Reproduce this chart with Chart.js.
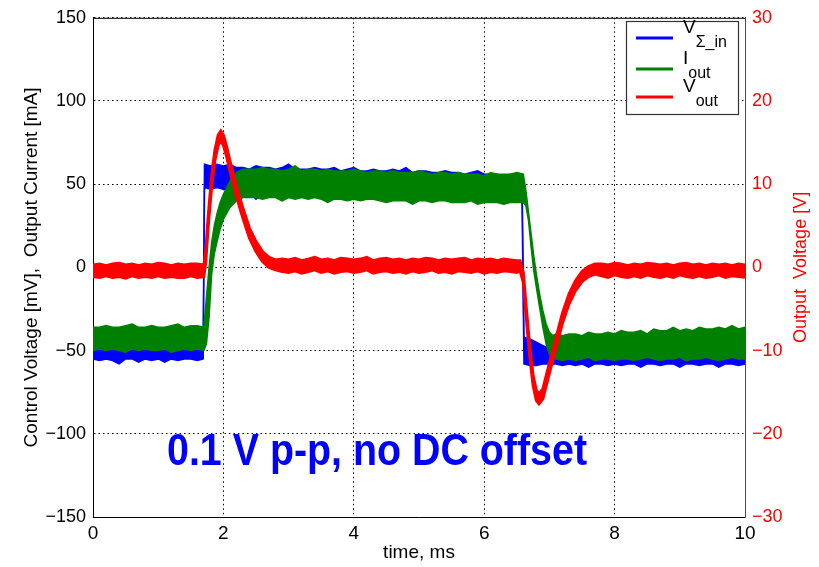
<!DOCTYPE html>
<html>
<head>
<meta charset="utf-8">
<script src="https://cdn.jsdelivr.net/npm/chart.js@4.4.1/dist/chart.umd.min.js"></script>
<style>
  html, body { margin: 0; padding: 0; background: #fff; }
  canvas { display: block; }
</style>
</head>
<body>
<canvas id="scope" width="819" height="567"></canvas>
<script>
// time axis ticks, ms
const timeTicks = [0, 2, 4, 6, 8, 10];

// V_sigma_in (blue), control voltage [mV] - noise band edges
const blueTime = [
  0, 0.1, 0.2, 0.3, 0.4, 0.5, 0.6, 0.7, 0.8, 0.9, 1.0, 1.1, 1.2, 1.3, 1.4, 1.5, 1.6,
  1.69, 1.71, 1.8, 1.9, 2.0, 2.1,
  2.2, 2.3, 2.4, 2.5, 2.6, 2.7, 2.8, 2.9, 3.0, 3.1, 3.2, 3.3, 3.4, 3.5, 3.6, 3.7, 3.8, 3.9,
  4.0, 4.1, 4.2, 4.3, 4.4, 4.5, 4.6, 4.7, 4.8, 4.9, 5.0, 5.1, 5.2, 5.3, 5.4, 5.5, 5.6, 5.7,
  5.8, 5.9, 6.0, 6.1, 6.2, 6.3, 6.4, 6.5,
  6.58, 6.61, 6.7, 6.8, 6.9, 7.0, 7.06,
  7.1, 7.2, 7.3, 7.4, 7.5, 7.6, 7.7, 7.8, 7.9, 8.0, 8.1, 8.2, 8.3, 8.4, 8.5, 8.6, 8.7, 8.8,
  8.9, 9.0, 9.1, 9.2, 9.3, 9.4, 9.5, 9.6, 9.7, 9.8, 9.9, 10.0
];
const blueHigh = [
  -44, -43, -45, -42, -44, -43, -41, -44, -45, -43, -42, -44, -43, -45, -42, -44, -43,
  -44, 62, 61, 62, 61, 62,
  60, 60, 59, 61, 60, 60, 59, 60, 62, 59, 59, 59, 60, 59, 59, 60, 58, 59, 60, 58,
  58, 59, 58, 58, 59, 58, 60, 57, 58, 58, 57, 57, 58, 57, 57, 56, 57, 58, 56, 56, 56, 55, 56, 55,
  55, -42, -43, -45, -47, -49, -45,
  -44, -43, -45, -42, -44, -43, -45, -42, -44, -43, -42, -44, -41, -43, -44, -42, -43, -41,
  -42, -44, -42, -41, -43, -40, -42, -41, -42, -40, -41, -42
];
const blueLow = [
  -55, -56, -55, -56, -58, -55, -55, -57, -55, -56, -55, -57, -55, -56, -55, -55, -56,
  -55, 48, 47, 48, 47, 46,
  45, 44, 45, 41, 45, 44, 45, 43, 45, 44, 45, 44, 43, 45, 44, 45, 44, 43, 45, 44,
  43, 44, 45, 43, 44, 42, 44, 43, 44, 42, 43, 44, 42, 43, 44, 42, 43, 41, 43, 42, 43, 41, 42, 41,
  40, -58, -59, -59, -58, -58, -58,
  -58, -59, -58, -59, -58, -60, -58, -58, -59, -58, -59, -58, -58, -60, -58, -58, -59, -58,
  -58, -60, -58, -58, -59, -58, -58, -60, -58, -58, -59, -58
];

// I_out (green), output current [mA]
const greenTime = [
  0, 0.1, 0.2, 0.3, 0.4, 0.5, 0.6, 0.7, 0.8, 0.9, 1.0, 1.1, 1.2, 1.3, 1.4, 1.5, 1.6, 1.7,
  1.74, 1.78, 1.82, 1.86, 1.9, 1.95, 2.0, 2.1, 2.2, 2.3,
  2.4, 2.5, 2.6, 2.7, 2.8, 2.9, 3.0, 3.1, 3.2, 3.3, 3.4, 3.5, 3.6, 3.7, 3.8, 3.9, 4.0, 4.1,
  4.2, 4.3, 4.4, 4.5, 4.6, 4.7, 4.8, 4.9, 5.0, 5.1, 5.2, 5.3, 5.4, 5.5, 5.6, 5.7, 5.8, 5.9,
  6.0, 6.1, 6.2, 6.3, 6.4, 6.5, 6.6,
  6.64, 6.68, 6.72, 6.76, 6.8, 6.85, 6.9, 6.95, 7.0, 7.05,
  7.1, 7.2, 7.3, 7.4, 7.5, 7.6, 7.7, 7.8, 7.9, 8.0, 8.1, 8.2, 8.3, 8.4, 8.5, 8.6, 8.7, 8.8,
  8.9, 9.0, 9.1, 9.2, 9.3, 9.4, 9.5, 9.6, 9.7, 9.8, 9.9, 10.0
];
const greenHigh = [
  -36, -36, -35, -36, -36, -35, -34, -36, -36, -35, -36, -36, -35, -34, -36, -35, -35, -36,
  -18, 0, 15, 25, 32, 39, 44, 52, 57, 59,
  59, 59, 60, 59, 59, 58, 59, 61, 58, 59, 59, 58, 59, 58, 58, 58, 59, 58,
  57, 58, 58, 57, 58, 57, 57, 57, 58, 57, 56, 57, 57, 56, 57, 56, 56, 56,
  55, 57, 56, 56, 56, 57, 56,
  46, 33, 20, 7, -4, -16, -26, -34, -39, -41,
  -40, -41, -40, -40, -41, -39, -40, -40, -39, -40, -38, -39, -39, -38, -40, -37, -38, -38,
  -36, -38, -37, -38, -36, -37, -37, -36, -37, -35, -37, -36
];
const greenLow = [
  -50, -49, -50, -49, -50, -51, -49, -50, -49, -50, -50, -49, -51, -50, -49, -50, -49, -50,
  -46, -30, -4, 8, 15, 23, 29, 36, 40, 42,
  42, 42, 41, 42, 42, 40, 42, 41, 42, 41, 42, 41, 39, 41, 41, 40, 41, 40,
  41, 41, 40, 39, 40, 40, 40, 38, 40, 40, 39, 40, 40, 39, 39, 39, 40, 38,
  39, 39, 39, 38, 39, 39, 39,
  37, 28, 12, -2, -12, -24, -36, -46, -52, -55,
  -55, -56, -55, -56, -55, -54, -56, -55, -55, -56, -55, -55, -56, -55, -54, -55, -56, -55,
  -55, -54, -56, -55, -55, -54, -55, -56, -55, -54, -55, -55
];

// V_out (red), output voltage [V] on the right axis
const redTime = [
  0, 0.1, 0.2, 0.3, 0.4, 0.5, 0.6, 0.7, 0.8, 0.9, 1.0, 1.1, 1.2, 1.3, 1.4, 1.5, 1.6, 1.7,
  1.73, 1.76, 1.79, 1.83, 1.87, 1.92, 1.96, 2.0, 2.05, 2.1, 2.2, 2.3, 2.4, 2.5, 2.6, 2.7, 2.8,
  2.9, 3.0, 3.1, 3.2, 3.3, 3.4, 3.5, 3.6, 3.7, 3.8, 3.9, 4.0, 4.1, 4.2, 4.3, 4.4, 4.5, 4.6,
  4.7, 4.8, 4.9, 5.0, 5.1, 5.2, 5.3, 5.4, 5.5, 5.6, 5.7, 5.8, 5.9, 6.0, 6.1, 6.2, 6.3, 6.4, 6.5,
  6.55, 6.6, 6.65, 6.7, 6.75, 6.8, 6.84, 6.9, 7.0, 7.1, 7.2, 7.3, 7.4, 7.5, 7.6, 7.7,
  7.8, 7.9, 8.0, 8.1, 8.2, 8.3, 8.4, 8.5, 8.6, 8.7, 8.8, 8.9, 9.0, 9.1, 9.2, 9.3, 9.4, 9.5,
  9.6, 9.7, 9.8, 9.9, 10.0
];
const redHigh = [
  0.3, 0.4, 0.2, 0.4, 0.5, 0.3, 0.4, 0.2, 0.4, 0.3, 0.5, 0.4, 0.2, 0.4, 0.3, 0.4, 0.4, 0.3,
  1.9, 5.4, 8.3, 11.7, 14.1, 15.9, 16.4, 15.9, 14.5, 12.8, 9.7, 7.1, 4.7, 3.1, 1.9, 1.2, 0.9,
  1.0, 0.9, 1.1, 0.8, 1.0, 1.2, 0.9, 1.0, 0.8, 1.1, 1.0, 0.9, 1.0, 1.2, 0.8, 1.0, 1.1, 0.9,
  1.0, 0.8, 1.0, 0.9, 1.1, 1.0, 0.8, 1.0, 0.9, 1.0, 1.1, 0.8, 1.0, 0.9, 1.0, 0.8, 1.0, 0.9, 0.8,
  0.8, -0.6, -5.3, -9.6, -13.0, -14.8, -15.2, -14.6, -11.5, -8.5, -5.5, -3.2, -1.6, -0.5, 0.1, 0.4,
  0.4, 0.3, 0.5, 0.4, 0.2, 0.4, 0.3, 0.5, 0.4, 0.3, 0.4, 0.2, 0.4, 0.5, 0.3, 0.4, 0.2, 0.4,
  0.3, 0.4, 0.2, 0.4, 0.3
];
const redLow = [
  -1.1, -1.2, -1.0, -1.2, -1.1, -1.3, -1.0, -1.2, -1.1, -1.2, -1.0, -1.2, -1.1, -1.2, -1.2, -1.0, -1.2, -1.1,
  0.7, 4.2, 7.1, 10.5, 12.9, 14.7, 15.2, 14.7, 13.3, 11.6, 8.5, 5.9, 3.5, 1.9, 0.7, 0.0, -0.3,
  -0.5, -0.6, -0.4, -0.7, -0.5, -0.3, -0.6, -0.4, -0.7, -0.5, -0.4, -0.6, -0.5, -0.3, -0.7, -0.5, -0.4, -0.6,
  -0.5, -0.7, -0.4, -0.6, -0.5, -0.3, -0.6, -0.5, -0.7, -0.4, -0.5, -0.6, -0.4, -0.7, -0.5, -0.6, -0.4, -0.5, -0.6,
  -0.4, -1.8, -6.5, -10.8, -14.2, -16.0, -16.4, -15.8, -12.7, -9.7, -6.7, -4.4, -2.8, -1.7, -1.1, -0.8,
  -1.0, -1.2, -0.9, -1.1, -1.2, -1.0, -1.2, -0.9, -1.1, -1.2, -1.0, -1.2, -0.9, -1.1, -1.2, -1.0, -1.2, -1.1,
  -0.9, -1.2, -1.0, -1.1, -1.2
];

const legendNames = [["V", "\u03A3_in"], ["I", "out"], ["V", "out"]];
const legendColors = ["#0000ff", "#008000", "#ff0000"];
const noteText = "0.1 V p-p, no DC offset";

// turn a time array + value array into {x, y} points
function toPoints(times, values) {
  return times.map((t, i) => ({ x: t, y: values[i] }));
}

// one edge of a noise band; the upper edge fills down to the lower one
function bandEdge(times, values, color, axis, width, fill) {
  return {
    data: toPoints(times, values),
    borderColor: color,
    backgroundColor: color,
    borderWidth: width,
    pointRadius: 0,
    tension: 0,
    fill: fill,
    yAxisID: axis,
  };
}

const baseFont = "'Liberation Sans', Arial, Helvetica, sans-serif";
const minusSign = (v) => String(v).replace("-", "\u2212");

// top frame, right-hand title, legend box and the blue note
const decorations = {
  id: "decorations",
  afterDraw(chart) {
    const ctx = chart.ctx;
    const area = chart.chartArea;
    ctx.save();

    ctx.strokeStyle = "#000";
    ctx.lineWidth = 1;
    ctx.beginPath();
    ctx.moveTo(area.left, area.top + 0.5);
    ctx.lineTo(area.right, area.top + 0.5);
    ctx.stroke();

    // right axis title reads bottom to top like the left one
    ctx.save();
    ctx.translate(801, (area.top + area.bottom) / 2);
    ctx.rotate(-Math.PI / 2);
    ctx.fillStyle = "#ff0000";
    ctx.font = "18px " + baseFont;
    ctx.textAlign = "center";
    ctx.textBaseline = "middle";
    ctx.fillText("Output  Voltage [V]", 0, 0);
    ctx.restore();

    // legend
    ctx.fillStyle = "#fff";
    ctx.fillRect(626, 21, 112, 93);
    ctx.strokeStyle = "#333";
    ctx.lineWidth = 1.2;
    ctx.strokeRect(626.5, 21.5, 112, 93);
    const rowY = [38, 69, 97];
    legendNames.forEach((name, i) => {
      ctx.strokeStyle = legendColors[i];
      ctx.lineWidth = 3;
      ctx.beginPath();
      ctx.moveTo(636, rowY[i]);
      ctx.lineTo(673, rowY[i]);
      ctx.stroke();
      ctx.fillStyle = "#000";
      ctx.textAlign = "left";
      ctx.textBaseline = "alphabetic";
      ctx.font = "19px " + baseFont;
      ctx.fillText(name[0], 683, rowY[i] - 5);
      const w = ctx.measureText(name[0]).width;
      ctx.font = "16px " + baseFont;
      ctx.fillText(name[1], 683 + w, rowY[i] + 9);
    });

    // note in large condensed bold
    ctx.fillStyle = "#0000ff";
    ctx.font = "bold 45px 'Liberation Sans Narrow', 'Liberation Sans', sans-serif";
    ctx.textAlign = "left";
    ctx.textBaseline = "alphabetic";
    const tw = ctx.measureText(noteText).width;
    ctx.translate(167, 465);
    ctx.scale(420 / tw, 1);
    ctx.fillText(noteText, 0, 0);

    ctx.restore();
  },
};

const gridStyle = {
  color: "#000",
  lineWidth: 1,
  drawTicks: false,
};

new Chart(document.getElementById("scope").getContext("2d"), {
  type: "line",
  data: {
    datasets: [
      bandEdge(redTime, redHigh, "#ff0000", "y2", 3, "+1"),
      bandEdge(redTime, redLow, "#ff0000", "y2", 3, false),
      bandEdge(greenTime, greenHigh, "#008000", "y", 1.5, "+1"),
      bandEdge(greenTime, greenLow, "#008000", "y", 1.5, false),
      bandEdge(blueTime, blueHigh, "#0000ff", "y", 1.5, "+1"),
      bandEdge(blueTime, blueLow, "#0000ff", "y", 1.5, false),
    ],
  },
  options: {
    responsive: false,
    animation: false,
    layout: { padding: { top: 14, left: 0, right: 0, bottom: 0 } },
    plugins: {
      legend: { display: false },
      tooltip: { enabled: false },
    },
    scales: {
      x: {
        type: "linear",
        min: 0,
        max: 10,
        afterBuildTicks: (scale) => {
          scale.ticks = timeTicks.map((v) => ({ value: v }));
        },
        afterFit: (scale) => { scale.height = 50; },
        ticks: {
          color: "#000",
          padding: 5,
          maxRotation: 0,
          font: { family: baseFont, size: 19 },
        },
        grid: gridStyle,
        border: { color: "#000", width: 1, dash: [1.5, 3] },
        title: {
          display: true,
          text: "time, ms",
          color: "#000",
          font: { family: baseFont, size: 19 },
          padding: { top: 0, bottom: 3 },
        },
      },
      y: {
        position: "left",
        min: -150,
        max: 150,
        afterFit: (scale) => { scale.width = 93; },
        ticks: {
          stepSize: 50,
          color: "#000",
          padding: 7,
          font: { family: baseFont, size: 18 },
          callback: minusSign,
        },
        grid: gridStyle,
        border: { color: "#000", width: 1, dash: [1.5, 3] },
        title: {
          display: true,
          text: "Control Voltage [mV],  Output Current [mA]",
          color: "#000",
          font: { family: baseFont, size: 19 },
          padding: { top: 20, bottom: 0 },
        },
      },
      y2: {
        position: "right",
        min: -30,
        max: 30,
        afterFit: (scale) => { scale.width = 74; },
        ticks: {
          stepSize: 10,
          color: "#ff0000",
          padding: 7,
          font: { family: baseFont, size: 18 },
          callback: minusSign,
        },
        grid: { drawOnChartArea: false, drawTicks: false },
        border: { color: "#ff0000", width: 1 },
      },
    },
  },
  plugins: [decorations],
});
</script>
</body>
</html>
